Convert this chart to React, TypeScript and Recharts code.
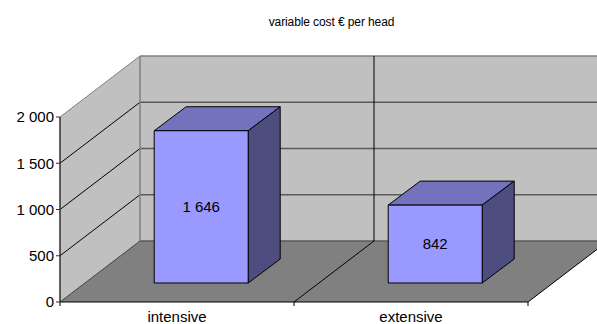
import { BarChart, Bar, XAxis, YAxis, usePlotArea } from 'recharts'

const categories = ['intensive', 'extensive']
const costPerHead = [1646, 842]
const yTicks = [0, 500, 1000, 1500, 2000]

const data = categories.map((name, i) => ({ name, cost: costPerHead[i] }))

const WIDTH = 597
const HEIGHT = 324
const FONT = '"Liberation Sans", Arial, sans-serif'

// depth of the chart box, and of each bar within it
const BOX_DX = 80
const BOX_DY = 61
const BAR_SHIFT_X = 24
const BAR_SHIFT_Y = 19
const BAR_DX = 32
const BAR_DY = 24

const fmt = (v: number) => String(v).replace(/\B(?=(\d{3})+$)/g, ' ')

const pts = (...p: number[][]) => p.map(q => q.join(',')).join(' ')

function Box() {
  const plot = usePlotArea()
  if (!plot) return null
  const { x, y, width, height } = plot
  const bottom = y + height
  const right = x + width
  const band = width / categories.length
  const backX = x + BOX_DX
  const backTop = y - BOX_DY
  const backBottom = bottom - BOX_DY
  const tickY = (v: number) => bottom - (v / 2000) * height

  return (
    <g>
      {/* back wall, side wall, floor */}
      <polygon points={pts([backX, backTop], [right + BOX_DX, backTop], [right + BOX_DX, backBottom], [backX, backBottom])} fill="#C0C0C0" />
      <polygon points={pts([x, y], [backX, backTop], [backX, backBottom], [x, bottom])} fill="#C0C0C0" />
      <polygon points={pts([x, bottom], [backX, backBottom], [right + BOX_DX, backBottom], [right, bottom])} fill="#808080" />

      {yTicks.map(v => {
        const ty = tickY(v)
        const isBase = v === 0
        const isTop = v === 2000
        return (
          <g key={v}>
            <line x1={backX} y1={ty - BOX_DY} x2={right + BOX_DX} y2={ty - BOX_DY} stroke={isTop ? '#808080' : '#5A5A5A'} strokeWidth={1.5} />
            {!isBase && (
              <line x1={x} y1={ty} x2={backX} y2={ty - BOX_DY} stroke={isTop ? '#808080' : '#000000'} strokeWidth={1} />
            )}
          </g>
        )
      })}
      <line x1={backX} y1={backTop} x2={backX} y2={backBottom} stroke="#808080" strokeWidth={1.5} />

      {/* category dividers across the floor and up the back wall */}
      <polyline points={pts([x + band, bottom], [x + band + BOX_DX, backBottom], [x + band + BOX_DX, backTop])} fill="none" stroke="#000000" />
      <line x1={x} y1={bottom} x2={backX} y2={backBottom} stroke="#404040" />
      <line x1={right} y1={bottom} x2={right + BOX_DX} y2={backBottom} stroke="#000000" />

      {/* band-edge ticks under the floor */}
      {[0, 1, 2].map(i => (
        <line key={i} x1={x + band * i} y1={bottom} x2={x + band * i} y2={bottom + 4} stroke="#000000" />
      ))}
    </g>
  )
}

function Bar3D(props: any) {
  const { x, y, width, height, value } = props
  const fx = x + BAR_SHIFT_X
  const fy = y - BAR_SHIFT_Y
  const fr = fx + width
  const fb = fy + height
  return (
    <g stroke="#000000" strokeWidth={1} strokeLinejoin="round">
      <polygon points={pts([fx, fy], [fx + BAR_DX, fy - BAR_DY], [fr + BAR_DX, fy - BAR_DY], [fr, fy])} fill="#7373BD" />
      <polygon points={pts([fr, fy], [fr + BAR_DX, fy - BAR_DY], [fr + BAR_DX, fb - BAR_DY], [fr, fb])} fill="#4D4D80" />
      <rect x={fx} y={fy} width={width} height={height} fill="#9999FF" />
      <text x={fx + width / 2} y={fy + height / 2} dy={5} textAnchor="middle" stroke="none" fill="#000000" fontFamily={FONT} fontSize={15}>
        {fmt(value)}
      </text>
    </g>
  )
}

export default function App() {
  return (
    <div style={{ position: 'absolute', left: 0, top: 0, width: WIDTH, height: HEIGHT, background: '#fff' }}>
      <BarChart
        width={WIDTH}
        height={HEIGHT}
        data={data}
        margin={{ top: 117, right: 69, bottom: 0, left: 0 }}
        barCategoryGap="30%"
      >
        <Box />
        <XAxis
          dataKey="name"
          height={22}
          axisLine={{ stroke: '#000000' }}
          tickLine={false}
          tickMargin={3}
          tick={{ fill: '#000000', fontSize: 15, fontFamily: FONT }}
        />
        <YAxis
          width={60}
          domain={[0, 2000]}
          ticks={yTicks}
          tickFormatter={fmt}
          axisLine={{ stroke: '#303030', strokeWidth: 1.5 }}
          tickSize={4}
          tickLine={{ stroke: '#303030' }}
          tick={{ fill: '#000000', fontSize: 15, fontFamily: FONT }}
        />
        <Bar dataKey="cost" shape={Bar3D} isAnimationActive={false} />
        <text x={331.5} y={26} textAnchor="middle" fill="#000000" fontFamily={FONT} fontSize={12} letterSpacing={-0.1}>
          variable cost € per head
        </text>
      </BarChart>
    </div>
  )
}
